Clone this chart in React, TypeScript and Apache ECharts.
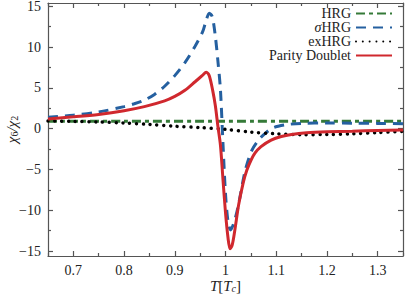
import React, { useEffect, useRef } from "react";
import * as echarts from "echarts";

// ---- data ----
const xTicks = [0.7, 0.8, 0.9, 1.0, 1.1, 1.2, 1.3];
const xMinorTicks = [0.65, 0.75, 0.85, 0.95, 1.05, 1.15, 1.25, 1.35];
const yTicks = [-15, -10, -5, 0, 5, 10, 15];
const yMinorTicks = [-12.5, -7.5, -2.5, 2.5, 7.5, 12.5];

const hrgT = [0.65, 0.8, 1.0, 1.2, 1.35];
const hrgV = [0.92, 0.91, 0.9, 0.9, 0.9];

const sigmaT = [0.65, 0.7, 0.75, 0.8, 0.82, 0.84, 0.86, 0.88, 0.9, 0.92, 0.94, 0.955, 0.962, 0.968, 0.974, 0.98, 0.985, 0.99, 0.995, 1.0, 1.005, 1.01, 1.015, 1.02, 1.026, 1.039, 1.052, 1.065, 1.078, 1.09, 1.104, 1.12, 1.15, 1.2, 1.25, 1.3, 1.35];
const sigmaV = [1.4, 1.65, 2.05, 2.7, 3.05, 3.5, 4.2, 5.2, 6.5, 8.1, 10.1, 11.9, 13.3, 14.15, 13.7, 11.3, 8.3, 4.8, -1.8, -8.0, -11.4, -12.4, -11.8, -10.8, -9.2, -5.1, -2.66, -1.4, -0.6, 0.0, 0.3, 0.5, 0.65, 0.7, 0.68, 0.65, 0.6];

const exT = [0.65, 0.7, 0.75, 0.8, 0.85, 0.9, 0.95, 1.0, 1.05, 1.1, 1.15, 1.2, 1.25, 1.3, 1.35];
const exV = [0.95, 0.9, 0.82, 0.7, 0.52, 0.3, 0.13, -0.08, -0.42, -0.62, -0.73, -0.72, -0.63, -0.48, -0.33];

const pdT = [0.65, 0.7, 0.75, 0.8, 0.84, 0.88, 0.9, 0.92, 0.94, 0.955, 0.962, 0.968, 0.975, 0.98, 0.985, 0.99, 0.995, 1.0, 1.005, 1.009, 1.013, 1.018, 1.026, 1.035, 1.042, 1.05, 1.058, 1.07, 1.09, 1.11, 1.13, 1.16, 1.2, 1.25, 1.3, 1.35];
const pdV = [1.2, 1.45, 1.75, 2.2, 2.7, 3.4, 3.95, 4.7, 5.75, 6.55, 6.93, 6.5, 4.6, 2.8, 0.3, -2.0, -6.2, -10.3, -13.4, -14.7, -14.3, -12.6, -9.3, -6.6, -5.1, -3.9, -3.0, -2.2, -1.4, -0.95, -0.7, -0.5, -0.38, -0.3, -0.22, -0.15];

const FONT = "Liberation Serif";
const AXIS_COLOR = "#555";

function zip(t: number[], v: number[]) {
  return t.map((x, i) => [x, v[i]]);
}

function fmt(v: number) {
  return String(Math.round(v * 100) / 100).replace("-", "\u2212");
}

export default function App() {
  const ref = useRef<HTMLDivElement>(null);
  useEffect(() => {
    document.body.style.margin = "0";
    const chart = echarts.init(ref.current!, null, { renderer: "svg" });
    const lineStyleAxis = { color: AXIS_COLOR, width: 1.2 };
    const labelStyle = { fontFamily: FONT, fontSize: 14, color: "#222" };
    const mkX = (position: string, ticks: number[], len: number, labels: boolean, line: boolean, extra: any = {}) => ({
      type: "value",
      position,
      min: 0.65,
      max: 1.35,
      axisLine: { show: line, onZero: false, lineStyle: lineStyleAxis },
      axisTick: { show: true, inside: true, length: len, customValues: ticks, lineStyle: lineStyleAxis },
      axisLabel: labels
        ? { show: true, customValues: ticks, formatter: fmt, margin: 7, ...labelStyle }
        : { show: false },
      splitLine: { show: false },
      ...extra,
    });
    const mkY = (position: string, ticks: number[], len: number, labels: boolean, line: boolean, extra: any = {}) => ({
      type: "value",
      position,
      min: -15.6,
      max: 15.4,
      axisLine: { show: line, onZero: false, lineStyle: lineStyleAxis },
      axisTick: { show: true, inside: true, length: len, customValues: ticks, lineStyle: lineStyleAxis },
      axisLabel: labels
        ? { show: true, customValues: ticks, formatter: fmt, margin: 7, ...labelStyle }
        : { show: false },
      splitLine: { show: false },
      ...extra,
    });

    chart.setOption({
      animation: false,
      textStyle: { fontFamily: FONT },
      grid: { left: 48, right: 4, top: 3, bottom: 39, containLabel: false, outerBoundsMode: "none" },
      xAxis: [
        mkX("bottom", xTicks, 5, true, true, {
          name: "{i|T}{n|[}{i|T}{s|c}{n|]}",
          nameLocation: "middle",
          nameGap: 19,
          nameMoveOverlap: false,
          nameTextStyle: {
            fontFamily: FONT,
            rich: {
              i: { fontFamily: FONT, fontStyle: "italic", fontSize: 15, color: "#222", lineHeight: 18, verticalAlign: "bottom" },
              n: { fontFamily: FONT, fontSize: 15, color: "#222", lineHeight: 18, verticalAlign: "bottom" },
              s: { fontFamily: FONT, fontStyle: "italic", fontSize: 10, color: "#222", lineHeight: 13, verticalAlign: "bottom" },
            },
          },
        }),
        mkX("bottom", xMinorTicks, 3, false, false),
        mkX("top", xTicks, 5, false, true),
        mkX("top", xMinorTicks, 3, false, false),
      ],
      yAxis: [
        mkY("left", yTicks, 5, true, true, {
          name: "{c|\u03c7}{s|6}{c|/\u03c7}{s|2}",
          nameLocation: "middle",
          nameGap: 29,
          nameRotate: 90,
          nameMoveOverlap: false,
          nameTextStyle: {
            fontFamily: FONT,
            rich: {
              c: { fontFamily: FONT, fontStyle: "italic", fontSize: 15, color: "#222", lineHeight: 18, verticalAlign: "bottom" },
              s: { fontFamily: FONT, fontSize: 10, color: "#222", lineHeight: 13, verticalAlign: "bottom" },
            },
          },
        }),
        mkY("left", yMinorTicks, 3, false, false),
        mkY("right", yTicks, 5, false, true),
        mkY("right", yMinorTicks, 3, false, false),
      ],
      legend: {
        orient: "vertical",
        align: "right",
        right: 14,
        top: 6.5,
        padding: 0,
        itemWidth: 36,
        itemHeight: 13,
        itemGap: 0,
        itemStyle: { opacity: 0 },
        textStyle: {
          fontFamily: FONT,
          fontSize: 14,
          color: "#222",
          lineHeight: 13,
          rich: { it: { fontFamily: FONT, fontStyle: "italic", fontSize: 14, color: "#222", lineHeight: 13 } },
        },
        formatter: (name: string) => (name === "\u03c3HRG" ? "{it|\u03c3}HRG" : name),
        data: ["HRG", "\u03c3HRG", "exHRG", "Parity Doublet"],
      },
      series: [
        {
          name: "HRG",
          type: "line",
          data: zip(hrgT, hrgV),
          symbol: "none",
          smooth: 0.3,
          lineStyle: { color: "#357a38", width: 3, type: [9, 4, 4, 4] },
          itemStyle: { color: "#357a38" },
        },
        {
          name: "\u03c3HRG",
          type: "line",
          data: zip(sigmaT, sigmaV),
          symbol: "none",
          smooth: 0.3,
          lineStyle: { color: "#2560a0", width: 3, type: [10, 7] },
          itemStyle: { color: "#2560a0" },
        },
        {
          name: "exHRG",
          type: "line",
          data: zip(exT, exV),
          symbol: "none",
          smooth: 0.3,
          lineStyle: { color: "#000", width: 3.5, type: [0.01, 6.8], cap: "round" },
          itemStyle: { color: "#000" },
        },
        {
          name: "Parity Doublet",
          type: "line",
          data: zip(pdT, pdV),
          symbol: "none",
          smooth: 0.3,
          lineStyle: { color: "#d0282e", width: 3 },
          itemStyle: { color: "#d0282e" },
        },
      ],
    });
    return () => chart.dispose();
  }, []);
  return <div ref={ref} style={{ width: 407, height: 295 }} />;
}
